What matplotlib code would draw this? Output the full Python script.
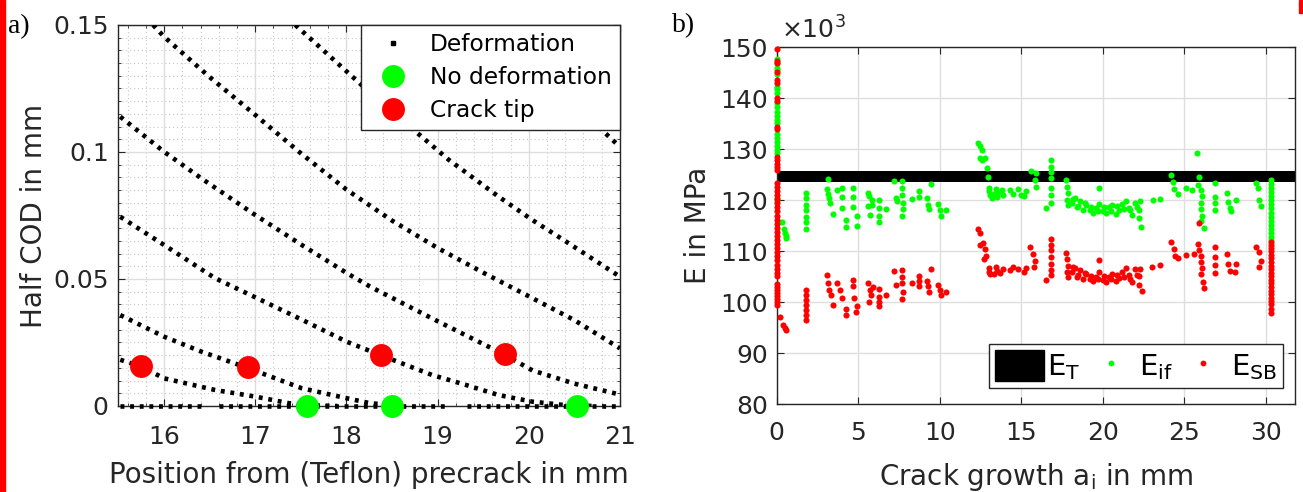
import numpy as np
import matplotlib.pyplot as plt
from matplotlib.lines import Line2D
from matplotlib.patches import Patch, Rectangle

plt.rcParams['font.family'] = ['DejaVu Sans']
plt.rcParams['mathtext.fontset'] = 'dejavusans'

# ---------------- panel a) : half COD profiles ----------------
c1_x = [15.52, 15.75, 16.0, 16.56, 17.0, 17.37, 17.6, 17.9]
c1_y = [0.0182, 0.0155, 0.0109, 0.0063, 0.0037, 0.0011, 0.0003, 0.0]
c2_x = [15.52, 16.0, 16.41, 16.93, 17.51, 18.01, 18.26, 18.6]
c2_y = [0.0358, 0.0273, 0.0214, 0.0148, 0.0070, 0.0030, 0.0011, 0.0]
c3_x = [15.52, 16.0, 16.56, 17.0, 17.51, 18.01, 18.39, 18.94, 19.31, 19.67, 20.04, 20.41, 20.7]
c3_y = [0.0745, 0.0634, 0.0503, 0.0428, 0.0340, 0.0252, 0.0198, 0.0122, 0.0083, 0.0043, 0.0017, 0.0003, 0.0]
c4_x = [15.52, 16.0, 16.41, 17.0, 17.51, 18.01, 18.26, 19.01, 19.74, 20.04, 20.5, 21.0]
c4_y = [0.1139, 0.1001, 0.0896, 0.0752, 0.0634, 0.0522, 0.0470, 0.0332, 0.0201, 0.0140, 0.0088, 0.0045]
c5_x = [15.88, 16.0, 16.5, 17.0, 17.5, 18.0, 18.5, 19.0, 19.5, 20.0, 20.5, 21.0]
c5_y = [0.150, 0.1454, 0.1295, 0.1146, 0.0995, 0.0852, 0.0730, 0.0622, 0.0525, 0.0432, 0.0338, 0.0227]
c6_x = [17.44, 18.27, 18.81, 19.12, 19.67, 20.04, 20.41, 21.0]
c6_y = [0.150, 0.123, 0.1065, 0.097, 0.0824, 0.0732, 0.0647, 0.0509]
c7_x = [20.1, 20.5, 20.86, 21.0]
c7_y = [0.134, 0.119, 0.1067, 0.102]
zero_x = [[15.52, 16.45], [16.6, 19.1], [19.32, 21.0]]

tip_x = [15.75, 16.92, 18.38, 19.74]
tip_y = [0.0158, 0.0152, 0.0201, 0.0205]
nodef_x = [17.57, 18.5, 20.53]
nodef_y = [0.0, 0.0, 0.0]

# ---------------- panel b) : stiffness vs crack growth (x10^3 MPa) ----------------
e_t_low, e_t_high = 123.6, 125.7
col_x = [0.0, 30.35]
if_col0 = [147.8, 146.9, 146.0, 145.5, 144.8, 142.3, 141.8, 141.0, 139.0, 138.2, 137.4,
           136.6, 135.8, 135.2, 133.0, 132.2, 131.4, 130.6, 129.8, 129.2, 120.4, 119.8]
sb_col0 = [149.7, 147.4, 147.0, 145.2, 143.6, 143.0, 140.0, 139.5, 134.3, 133.9, 128.4,
           127.8, 127.2, 126.6, 126.0, 123.4, 122.6, 121.8, 121.0, 120.2, 119.4, 118.6,
           117.8, 117.0, 116.2, 115.4, 114.6, 113.8, 113.0, 112.2, 111.4, 110.6, 109.8,
           109.0, 108.2, 107.4, 106.6, 105.8, 105.2, 103.6, 103.0, 102.4, 101.8, 101.2,
           100.6, 100.0, 99.4]
if_col30 = [124.0, 123.2, 122.4, 121.6, 120.8, 120.0, 119.2, 118.4, 117.6, 116.8, 116.0,
            115.2, 114.4, 113.6, 112.8, 112.2]
sb_col30 = [111.8, 111.2, 110.6, 110.0, 109.3, 108.6, 107.9, 107.2, 106.5, 105.8, 105.1,
            104.4, 103.7, 103.0, 102.3, 101.6, 100.9, 100.2, 99.6, 98.6, 97.9]

if_x = [0.31, 0.42, 0.5, 0.55, 0.6,
        1.78, 1.78, 1.78, 1.78, 1.78, 1.78, 1.78,
        3.16, 3.1, 3.15, 3.2, 3.25, 3.43,
        3.67, 3.98, 3.98, 3.98, 4.24, 4.24,
        4.69, 4.69, 4.69, 4.9, 4.9,
        5.6, 5.65, 5.6, 5.7, 5.85, 5.85,
        6.25, 6.25, 6.25, 6.25, 6.73,
        7.2, 7.3, 7.35,
        7.68, 7.7, 7.7, 7.72, 7.72, 7.7,
        8.27, 8.73, 8.73, 9.2, 9.3, 9.35, 9.49,
        9.9, 10.0, 10.1, 10.4,
        12.35, 12.45, 12.5, 12.6, 12.75, 12.6, 12.9, 12.95,
        13.0, 13.1, 13.2, 13.35, 13.5, 13.6, 13.8, 13.9, 13.05, 13.45,
        14.3, 14.5, 14.8, 15.0, 15.2, 15.3,
        15.6, 15.9, 15.85, 15.9,
        16.52,
        16.8, 16.8, 16.8, 16.8, 16.8, 16.8, 16.85,
        17.75, 17.8, 17.85, 17.8, 17.9,
        18.1, 18.3, 18.4, 18.6, 18.8, 19.0, 19.2, 19.4, 19.6, 19.8, 20.0, 20.2, 20.4,
        20.6, 20.8, 21.0, 21.2, 21.4, 21.6, 21.8, 22.0, 22.2, 22.3,
        18.2, 18.5, 18.9, 19.3, 19.7, 20.1, 20.5, 20.9, 21.3, 21.7, 22.1, 22.25,
        19.79, 22.34, 23.1, 23.5,
        24.2, 24.3, 24.4, 24.6, 25.1,
        25.8, 25.5, 25.9, 25.85, 26.0, 26.1, 26.0, 26.05, 26.1, 26.0, 26.2,
        26.9, 26.9, 26.9, 26.9,
        27.6, 27.7, 27.8, 27.9, 28.2,
        29.4, 29.5, 29.6, 29.7]
if_e = [115.8, 114.3, 113.6, 113.0, 112.6,
        121.5, 120.4, 119.1, 118.1, 116.8, 115.8, 114.3,
        124.2, 122.2, 121.3, 120.5, 119.5, 117.3,
        122.0, 122.5, 120.6, 118.4, 116.1, 114.7,
        122.4, 120.7, 118.6, 116.9, 115.0,
        121.5, 120.8, 118.8, 117.1, 120.1, 119.1,
        120.1, 118.4, 116.9, 115.7, 118.2,
        123.7, 120.4, 119.9,
        123.8, 122.4, 121.0, 119.4, 118.3, 116.9,
        120.2, 121.9, 120.6, 120.4, 119.1, 118.2, 123.2,
        119.3, 118.1, 116.9, 118.1,
        131.2, 130.6, 128.2, 127.9, 128.2, 129.8, 126.3, 124.6,
        122.5, 121.0, 120.5, 121.3, 120.7, 121.5, 122.0, 121.0, 121.8, 122.2,
        122.0, 121.2, 122.3, 121.0, 120.8, 121.8,
        125.8, 125.4, 124.0, 122.7,
        118.4,
        127.9, 126.6, 125.6, 124.3, 122.4, 121.0, 119.5,
        124.0, 122.7, 121.5, 120.0, 119.1,
        119.5, 120.5, 118.6, 119.8, 118.0, 119.0, 118.0, 117.5, 118.5, 119.2, 117.8, 117.5, 118.6,
        119.0, 117.4, 118.0, 119.3, 119.8, 118.5, 117.2, 119.5, 118.0, 119.8,
        120.3, 118.9, 119.4, 118.6, 117.9, 118.7, 117.9, 118.8, 118.2, 118.0, 118.6, 116.6,
        122.4, 114.8, 120.1, 120.2,
        125.0, 123.5, 122.2, 121.3, 122.4,
        129.2, 122.0, 124.5, 123.0, 122.0, 120.8, 119.5, 118.3, 117.0, 116.0, 114.6,
        123.4, 120.7, 119.4, 118.1,
        121.4, 119.7, 118.4, 117.8, 120.0,
        123.3, 122.5, 120.0, 118.8]

sb_x = [0.2, 0.4, 0.5, 0.55,
        1.78, 1.78, 1.78, 1.78, 1.78, 1.78, 1.78,
        3.1, 3.15, 3.2, 3.3, 3.43,
        3.67, 3.9, 4.0, 4.24, 4.24,
        4.7, 4.7, 4.75, 4.9, 4.85,
        5.6, 5.7, 5.8, 5.65, 5.9,
        6.25, 6.25, 6.25, 6.3, 6.73,
        7.2, 7.3,
        7.68, 7.7, 7.7, 7.72, 7.7,
        8.27, 8.73, 8.73, 8.75, 9.2, 9.3, 9.35, 9.49,
        9.9, 10.0, 10.1, 10.4,
        12.35, 12.45, 12.5, 12.65, 12.8, 12.85, 12.7,
        13.0, 13.1, 13.3, 13.5, 13.7, 13.9, 13.05, 13.45,
        14.3, 14.5, 14.8, 15.2, 15.3,
        15.55, 15.7, 15.85, 15.8,
        16.52,
        16.8, 16.8, 16.8, 16.8, 16.8, 16.8, 16.85,
        17.75, 17.8, 17.85, 17.8, 17.9,
        18.1, 18.3, 18.4, 18.6, 18.8, 19.0, 19.2, 19.4, 19.6, 19.8, 20.0, 20.2, 20.4,
        20.6, 20.8, 21.0, 21.2, 21.4, 21.6, 21.8, 22.0, 22.2, 22.3,
        18.2, 18.5, 18.9, 19.3, 19.7, 20.1, 20.5, 20.9, 21.3, 21.7, 22.1, 22.25,
        19.79, 22.4, 23.05, 23.5,
        24.2, 24.35, 24.45, 24.6, 25.1,
        25.9, 25.85, 25.9, 26.0, 26.05, 26.1, 26.0, 26.15, 26.2, 25.6,
        26.9, 26.9, 26.9, 26.9,
        27.6, 27.7, 27.8, 28.2, 28.1,
        29.4, 29.6, 29.7, 29.6]
sb_e = [97.2, 95.6, 95.0, 94.5,
        102.4, 101.5, 100.5, 99.5, 98.5, 97.5, 96.5,
        105.4, 103.7, 102.4, 101.4, 99.5,
        103.7, 102.4, 100.8, 98.6, 97.5,
        104.4, 103.1, 100.8, 99.2, 98.0,
        103.7, 102.4, 101.4, 100.1, 103.0,
        102.7, 101.1, 100.1, 99.2, 101.4,
        106.1, 103.3,
        106.3, 105.0, 103.7, 102.1, 100.6,
        103.7, 105.2, 104.1, 103.1, 104.1, 103.1, 102.1, 106.5,
        103.3, 102.4, 101.4, 102.1,
        114.3, 113.5, 111.3, 111.6, 110.5, 109.0, 108.5,
        106.8, 105.6, 105.5, 106.2, 105.8, 106.6, 105.9, 106.9,
        106.3, 107.0, 106.5, 106.0, 106.8,
        110.9, 109.5, 108.0, 107.0,
        104.4,
        112.5, 111.2, 110.3, 108.9, 107.6, 106.3, 105.4,
        109.6, 108.5, 107.2, 106.0, 105.0,
        106.0, 106.8, 105.0, 106.3, 104.6, 105.5, 104.5, 104.2, 105.0, 106.0, 104.4, 104.0, 105.0,
        105.6, 104.2, 104.8, 106.0, 106.8, 105.3, 104.0, 106.5, 105.2, 106.6,
        106.9, 105.4, 105.8, 105.2, 104.5, 105.2, 104.6, 105.4, 104.9, 104.6, 105.3, 103.4,
        108.2, 102.3, 107.0, 107.3,
        111.8, 110.4, 109.0, 108.6, 109.3,
        115.5, 111.5, 110.2, 109.0, 107.8, 106.8, 105.5, 104.0, 102.8, 109.5,
        110.9, 108.9, 107.3, 105.7,
        109.5, 107.6, 106.2, 107.5, 105.9,
        110.8, 109.9, 108.0, 107.0]

fig = plt.figure(figsize=(13.03, 4.92), dpi=100)
axis_col = '#262626'
grid_col = '#dedede'

# ---- a) ----
ax1 = fig.add_axes([0.0909, 0.1748, 0.3849, 0.7744])
dot_kw = dict(color='k', lw=3.3, dashes=(0.85, 1.25), dash_capstyle='butt', zorder=3)
for cx, cy in [(c1_x, c1_y), (c2_x, c2_y), (c3_x, c3_y), (c4_x, c4_y),
               (c5_x, c5_y), (c6_x, c6_y), (c7_x, c7_y)]:
    ax1.plot(cx, cy, **dot_kw)
for seg in zero_x:
    ax1.plot(seg, [0, 0], clip_on=False, **dot_kw)
ax1.plot(nodef_x, nodef_y, 'o', color='#00ff00', ms=16.5, mec='none', zorder=5, clip_on=False)
ax1.plot(tip_x, tip_y, 'o', color='#ff0000', ms=16.5, mec='none', zorder=5, clip_on=False)

ax1.set_xlim(15.5, 21)
ax1.set_ylim(0, 0.15)
ax1.set_xticks([16, 17, 18, 19, 20, 21])
ax1.set_yticks([0, 0.05, 0.1, 0.15])
ax1.set_yticklabels(['0', '0.05', '0.1', '0.15'])
ax1.set_xticks(np.arange(15.6, 21.0, 0.2), minor=True)
ax1.set_yticks(np.arange(0.005, 0.15, 0.005), minor=True)
ax1.grid(True, which='major', color=grid_col, lw=1.0)
ax1.grid(True, which='minor', color='#c8c8c8', lw=0.8, ls=(0, (1, 2.5)))
ax1.set_axisbelow(True)
ax1.set_xlabel('Position from (Teflon) precrack in mm', fontsize=20)
ax1.set_ylabel('Half COD in mm', fontsize=20)
ax1.xaxis.set_label_coords(0.5, -0.145)
ax1.yaxis.set_label_coords(-0.14, 0.5)

leg_h1 = [Line2D([], [], ls='none', marker='s', ms=3, color='k'),
          Line2D([], [], ls='none', marker='o', ms=16.5, color='#00ff00', mec='none'),
          Line2D([], [], ls='none', marker='o', ms=16.5, color='#ff0000', mec='none')]
leg1 = ax1.legend(leg_h1, ['Deformation', 'No deformation', 'Crack tip'], loc='upper right',
                  bbox_to_anchor=(1.0, 1.0), borderaxespad=0, fontsize=16.8, frameon=True,
                  fancybox=False, edgecolor=axis_col, framealpha=1, handlelength=2.0,
                  handletextpad=0.6, labelspacing=0.42, borderpad=0.35)
leg1.get_frame().set_linewidth(1.0)

# ---- b) ----
ax2 = fig.add_axes([0.5961, 0.1783, 0.3978, 0.7256])
ax2.fill_between([0, 31.8], [e_t_low, e_t_low], [e_t_high, e_t_high], color='k', lw=0, zorder=2)
mk = dict(ls='none', marker='o', ms=4.4, mec='none', zorder=3, clip_on=False)
ax2.plot(if_x, if_e, color='#00ff00', **mk)
ax2.plot([col_x[0]] * len(if_col0), if_col0, color='#00ff00', **mk)
ax2.plot([col_x[1]] * len(if_col30), if_col30, color='#00ff00', **mk)
ax2.plot(sb_x, sb_e, color='#ff0000', **mk)
ax2.plot([col_x[0]] * len(sb_col0), sb_col0, color='#ff0000', **mk)
ax2.plot([col_x[1]] * len(sb_col30), sb_col30, color='#ff0000', **mk)

ax2.set_xlim(0, 31.8)
ax2.set_ylim(80, 150)
ax2.set_xticks([0, 5, 10, 15, 20, 25, 30])
ax2.set_yticks(np.arange(80, 151, 10))
ax2.grid(True, color=grid_col, lw=1.0)
ax2.set_axisbelow(True)
ax2.set_xlabel(r'Crack growth a$_\mathregular{i}$ in mm', fontsize=20)
ax2.set_ylabel('E in MPa', fontsize=20)
ax2.xaxis.set_label_coords(0.5, -0.16)
ax2.yaxis.set_label_coords(-0.125, 0.5)
ax2.text(0.008, 1.025, r'$\times\mathregular{10^{3}}$', transform=ax2.transAxes,
         fontsize=18, va='baseline', ha='left', color=axis_col)

leg_h2 = [Patch(facecolor='k', edgecolor='k'),
          Line2D([], [], ls='none', marker='o', ms=4.2, color='#00ff00', mec='none'),
          Line2D([], [], ls='none', marker='o', ms=4.2, color='#ff0000', mec='none')]
leg2 = ax2.legend(leg_h2, [r'$\mathregular{E_T}$', r'$\mathregular{E_{if}}$', r'$\mathregular{E_{SB}}$'],
                  loc='lower right', bbox_to_anchor=(0.977, 0.046), borderaxespad=0, ncol=3,
                  fontsize=21, frameon=True, fancybox=False, edgecolor=axis_col, framealpha=1,
                  handlelength=1.7, handleheight=1.25, handletextpad=0.1, columnspacing=0.2,
                  borderpad=0.2)
leg2.get_frame().set_linewidth(1.0)

for ax, xpad, ypad in [(ax1, 14, 7), (ax2, 12, 6.5)]:
    for s in ax.spines.values():
        s.set_color(axis_col)
        s.set_linewidth(1.0)
    ax.tick_params(which='major', direction='in', length=5, width=0.8, top=True, right=True,
                   labelsize=18, colors=axis_col)
    ax.tick_params(which='minor', direction='in', length=2.5, width=0.6, top=True, right=True,
                   colors=axis_col)
    ax.tick_params(axis='x', pad=xpad)
    ax.tick_params(axis='y', pad=ypad)
    ax.xaxis.label.set_color(axis_col)
    ax.yaxis.label.set_color(axis_col)

fig.text(0.006, 0.933, 'a)', fontsize=20, family='Liberation Serif', va='baseline')
fig.text(0.516, 0.935, 'b)', fontsize=20, family='Liberation Serif', va='baseline')

# red marks at the image edges
fig.patches.append(Rectangle((0, 0), 5 / 1303, 1, transform=fig.transFigure, color='#ff0000', zorder=10))
fig.patches.append(Rectangle((1299 / 1303, 1 - 13 / 492), 4 / 1303, 13 / 492,
                             transform=fig.transFigure, color='#ff0000', zorder=10))

fig.savefig('out.png', dpi=100)
